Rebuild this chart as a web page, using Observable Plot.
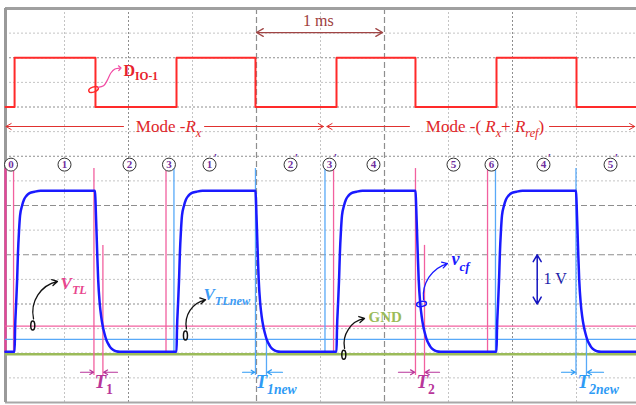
<!DOCTYPE html>
<html><head><meta charset="utf-8">
<script src="https://cdn.jsdelivr.net/npm/d3@7"></script>
<script src="https://cdn.jsdelivr.net/npm/@observablehq/plot@0.6"></script>
<style>html,body{margin:0;padding:0;background:#fff;overflow:hidden}</style>
</head><body><div id="chart"></div>
<script>
// ---------------- data (time in ms, voltage in V) ----------------
const tMin = 5 / 128, tMax = 636 / 128;

// red digital signal D_IO-1 (displayed between 5 V and 6 V)
const redRise = [0.11, 1.375, 2.625, 3.875];
const redFall = [0.742, 1.992, 3.242, 4.5];
const redLow = 5, redHigh = 6;

// blue capacitor voltage v_cf
const blueRise = [0.11, 1.375, 2.625, 3.875];
const blueFall = [0.738, 1.992, 3.242, 4.496];
const riseDt = [0, 0.004, 0.012, 0.02, 0.026, 0.035, 0.043, 0.059, 0.074, 0.094, 0.117, 0.156, 0.203];
const riseV  = [0.03, 0.5, 1.0, 1.5, 2.0, 2.5, 2.8, 3.0, 3.12, 3.2, 3.25, 3.28, 3.3];
const fallDt = [0, 0.0039, 0.0078, 0.0117, 0.018, 0.025, 0.0375, 0.0484, 0.0609, 0.0742, 0.0875, 0.1016, 0.1172, 0.1406, 0.1641, 0.1953];
const fallV  = [3.3, 3.1, 2.8, 2.5, 2.0, 1.5, 1.0, 0.75, 0.55, 0.4, 0.28, 0.2, 0.13, 0.07, 0.04, 0.03];
const baseV = 0.03;

// threshold levels
const vTL = 0.55, vTLnew = 0.28, gndV = -0.02;

// vertical marker lines
const pinkMarks = [
  {t: 0.102, y1: 0, y2: 3.75}, {t: 0.73, y1: -0.45, y2: 3.75}, {t: 0.80, y1: -0.45, y2: 2.19},
  {t: 1.293, y1: 0, y2: 3.75}, {t: 2.602, y1: 0, y2: 3.75}, {t: 3.242, y1: -0.45, y2: 3.75},
  {t: 3.3125, y1: -0.45, y2: 2.19}, {t: 3.805, y1: 0, y2: 3.75}
];
const blueMarks = [
  {t: 1.355, y1: 0, y2: 3.75}, {t: 1.992, y1: -0.45, y2: 3.75}, {t: 2.078, y1: -0.45, y2: 0.28},
  {t: 2.535, y1: 0, y2: 3.75}, {t: 3.867, y1: 0, y2: 3.75}, {t: 4.496, y1: -0.45, y2: 3.75},
  {t: 4.578, y1: -0.45, y2: 0.28}
];

// circled state numbers
const stateT = [0.082, 0.5, 1.008, 1.316, 1.633, 2.266, 2.57, 2.914, 3.539, 3.836, 4.242, 4.766];
const stateN = ["0", "1", "2", "3", "1", "2", "3", "4", "5", "6", "4", "5"];
const statePrime = [false, false, false, false, true, true, true, false, false, false, true, true];
const stateY = 3.83;

// grid
const gridXMinor = [0.5, 1.5, 2.5, 3.5, 4.5];
const gridXMajor = [1, 4];
const gridXDash = [2, 3];
const gridYMinor = [-0.5, 0.5, 1.5, 2.5, 3.5, 4.5, 5.5, 6.5];
const gridYMajor = [0, 1, 4, 5, 6];
const gridYDash = [2, 3];

// ---------------- build series ----------------
const red = [{t: tMin, v: redLow}];
redRise.forEach((r, i) => {
  red.push({t: r, v: redLow}, {t: r, v: redHigh}, {t: redFall[i], v: redHigh}, {t: redFall[i], v: redLow});
});
red.push({t: tMax, v: redLow});

const blue = [{t: tMin, v: baseV}];
blueRise.forEach((r, i) => {
  riseDt.forEach((d, j) => blue.push({t: r + d, v: riseV[j]}));
  fallDt.forEach((d, j) => blue.push({t: blueFall[i] + d, v: fallV[j]}));
});
blue.push({t: tMax, v: baseV});

const states = stateT.map((t, i) => ({t, n: stateN[i], prime: statePrime[i]}));

// ---------------- styles ----------------
const PINK = "#f2609f", LBLUE = "#58a9f8", BLUE = "#1a1aff", RED = "#ff2a2a";
const MAG = "#b8359a", TXTBLUE = "#2e9bf5", GREEN = "#9bbb59";
const SERIF = "Liberation Serif, DejaVu Serif, serif";

function ellipseSymbol(ratio) {
  return {draw(ctx, size) {
    const rx = Math.sqrt(size / Math.PI), ry = rx * ratio, k = 0.5523;
    ctx.moveTo(rx, 0);
    ctx.bezierCurveTo(rx, ry * k, rx * k, ry, 0, ry);
    ctx.bezierCurveTo(-rx * k, ry, -rx, ry * k, -rx, 0);
    ctx.bezierCurveTo(-rx, -ry * k, -rx * k, -ry, 0, -ry);
    ctx.bezierCurveTo(rx * k, -ry, rx, -ry * k, rx, 0);
    ctx.closePath();
  }};
}

function label(text, x, y, opts) {
  return Plot.text([{x, y, text}], {x: "x", y: "y", text: "text", fontFamily: SERIF, ...opts});
}
function arrow(x1, y1, x2, y2, opts) {
  return Plot.arrow([{x1, y1, x2, y2}], {x1: "x1", y1: "y1", x2: "x2", y2: "y2", ...opts});
}

const chart = Plot.plot({
  width: 636, height: 405,
  marginLeft: 5, marginRight: 0, marginTop: 8, marginBottom: 3,
  x: {domain: [tMin, tMax], axis: null},
  y: {domain: [-1, 7], axis: null},
  style: {background: "white", fontFamily: SERIF},
  marks: [
    // grid
    Plot.ruleX(gridXMinor, {stroke: "#c4c4c4", strokeDasharray: "2,2", strokeWidth: 1}),
    Plot.ruleX(gridXMajor, {stroke: "#8e8e8e", strokeDasharray: "2,2", strokeWidth: 1}),
    Plot.ruleX(gridXDash, {stroke: "#8e8e8e", strokeDasharray: "6,3", strokeWidth: 1.2}),
    Plot.ruleY(gridYMinor, {stroke: "#c4c4c4", strokeDasharray: "2,2", strokeWidth: 1}),
    Plot.ruleY(gridYMajor, {stroke: "#8e8e8e", strokeDasharray: "2,2", strokeWidth: 1}),
    Plot.ruleY(gridYDash, {stroke: "#8e8e8e", strokeDasharray: "6,3", strokeWidth: 1.2}),
    // frame
    Plot.ruleY([7], {stroke: "#a0a0a0", strokeWidth: 3}),
    Plot.ruleY([-1], {stroke: "#a8a8a8", strokeWidth: 2}),
    Plot.ruleX([tMin], {stroke: "#9a9a9a", strokeWidth: 3}),
    Plot.ruleX([tMin], {y1: 0, y2: 3.75, stroke: "#e8449a", strokeWidth: 2.2}),
    // threshold levels
    Plot.ruleY([vTL], {stroke: PINK, strokeWidth: 1.3}),
    Plot.ruleY([vTLnew], {stroke: LBLUE, strokeWidth: 1.3}),
    Plot.ruleY([gndV], {stroke: GREEN, strokeWidth: 2.5}),
    // markers
    Plot.ruleX(pinkMarks, {x: "t", y1: "y1", y2: "y2", stroke: PINK, strokeWidth: 1.3}),
    Plot.ruleX(blueMarks, {x: "t", y1: "y1", y2: "y2", stroke: LBLUE, strokeWidth: 1.3}),
    // signals
    Plot.line(red, {x: "t", y: "v", stroke: RED, strokeWidth: 2}),
    Plot.line(blue, {x: "t", y: "v", stroke: BLUE, strokeWidth: 2.5, curve: "monotone-x"}),
    // circled states
    Plot.dot(states, {x: "t", y: () => stateY, r: 6.5, stroke: "#333", strokeWidth: 1, fill: "white"}),
    Plot.text(states, {x: "t", y: () => stateY, text: "n", fill: "#7030a0", fontWeight: "bold", fontSize: 11, fontFamily: SERIF}),
    Plot.text(states.filter(d => d.prime), {x: "t", y: () => stateY, text: () => "′", dx: 6, dy: -6, fill: "#7030a0", fontWeight: "bold", fontSize: 12, fontFamily: SERIF}),
    // 1 ms
    arrow(2.49, 6.512, 2.0, 6.512, {stroke: "#a04545", strokeWidth: 1.3, headLength: 9}),
    arrow(2.49, 6.512, 2.985, 6.512, {stroke: "#a04545", strokeWidth: 1.3, headLength: 9}),
    label("1 ms", 2.484, 6.75, {fill: "#9e3d3d", fontSize: 16}),
    // D_IO-1 annotation
    Plot.dot([{x: 0.727, y: 5.355}], {x: "x", y: "y", r: 5, symbol: ellipseSymbol(0.5), rotate: -20, stroke: RED, fill: "none", strokeWidth: 1.5}),
    Plot.line([{x: 0.762, y: 5.40}, {x: 0.805, y: 5.43}, {x: 0.836, y: 5.55}, {x: 0.862, y: 5.69}, {x: 0.894, y: 5.77}, {x: 0.932, y: 5.79}],
      {x: "x", y: "y", stroke: "#f24aa3", strokeWidth: 1.2, curve: "catmull-rom", markerEnd: "arrow"}),
    label("D<sub>IO-1</sub>", 0.961, 5.74, {textAnchor: "start", fill: "#e8232c", fontWeight: "bold", fontSize: 16}),
    // modes
    arrow(0.961, 4.604, 0.043, 4.604, {stroke: "#e0312f", strokeWidth: 1, headLength: 9}),
    arrow(1.594, 4.604, 2.523, 4.604, {stroke: "#e0312f", strokeWidth: 1, headLength: 9}),
    arrow(3.195, 4.604, 2.55, 4.604, {stroke: "#e0312f", strokeWidth: 1, headLength: 9}),
    arrow(4.289, 4.604, 4.955, 4.604, {stroke: "#e0312f", strokeWidth: 1, headLength: 9}),
    label("Mode -<i>R</i><sub><i>x</i></sub>", 1.3125, 4.604, {fill: "#e0262a", fontSize: 17}),
    label("Mode -( <i>R</i><sub><i>x</i></sub>+ <i>R</i><sub><i>ref</i></sub>)", 3.785, 4.604, {fill: "#e0262a", fontSize: 17}),
    // annotation ellipses
    Plot.dot([{x: 0.252, y: 0.563}, {x: 1.445, y: 0.36}, {x: 2.682, y: -0.03}], {x: "x", y: "y", r: 2, symbol: ellipseSymbol(2.3), stroke: "#111", fill: "none", strokeWidth: 1.5}),
    Plot.dot([{x: 3.289, y: 1.0}], {x: "x", y: "y", r: 5, symbol: ellipseSymbol(0.5), rotate: -10, stroke: BLUE, fill: "none", strokeWidth: 1.5}),
    // annotation arrows
    arrow(0.258, 0.70, 0.445, 1.457, {bend: 45, stroke: "#111", strokeWidth: 1.3, headLength: 7}),
    arrow(1.453, 0.497, 1.602, 1.086, {bend: 45, stroke: "#111", strokeWidth: 1.3, headLength: 7}),
    arrow(2.688, 0.10, 2.844, 0.706, {bend: 45, stroke: "#111", strokeWidth: 1.3, headLength: 7}),
    arrow(3.305, 1.091, 3.492, 1.822, {bend: 40, stroke: BLUE, strokeWidth: 1.3, headLength: 7}),
    // annotation labels
    label("<i>V</i><sub><i>TL</i></sub>", 0.469, 1.42, {textAnchor: "start", fill: "#e8468e", fontWeight: "bold", fontSize: 17}),
    label("<i>V</i><sub><i>TLnew</i></sub>", 1.586, 1.2, {textAnchor: "start", fill: "#3d9cf5", fontWeight: "bold", fontSize: 17}),
    label("GND", 2.875, 0.726, {textAnchor: "start", fill: GREEN, fontWeight: "bold", fontSize: 15}),
    label("<i>v</i><sub><i>cf</i></sub>", 3.523, 1.9, {textAnchor: "start", fill: BLUE, fontWeight: "bold", fontSize: 18}),
    // 1 V scale
    arrow(4.193, 1.5, 4.193, 2.0, {stroke: "#1515c0", strokeWidth: 1.5, headLength: 8}),
    arrow(4.193, 1.5, 4.193, 1.0, {stroke: "#1515c0", strokeWidth: 1.5, headLength: 8}),
    label("1 V", 4.242, 1.518, {textAnchor: "start", fill: "#1c1ca8", fontSize: 16}),
    // T intervals
    arrow(0.625, -0.386, 0.727, -0.386, {stroke: MAG, strokeWidth: 1.2, headLength: 6}),
    arrow(0.914, -0.386, 0.805, -0.386, {stroke: MAG, strokeWidth: 1.2, headLength: 6}),
    arrow(1.891, -0.386, 1.986, -0.386, {stroke: TXTBLUE, strokeWidth: 1.2, headLength: 6}),
    arrow(2.203, -0.386, 2.084, -0.386, {stroke: TXTBLUE, strokeWidth: 1.2, headLength: 6}),
    arrow(3.109, -0.386, 3.236, -0.386, {stroke: MAG, strokeWidth: 1.2, headLength: 6}),
    arrow(3.43, -0.386, 3.318, -0.386, {stroke: MAG, strokeWidth: 1.2, headLength: 6}),
    arrow(4.383, -0.386, 4.49, -0.386, {stroke: TXTBLUE, strokeWidth: 1.2, headLength: 6}),
    arrow(4.711, -0.386, 4.584, -0.386, {stroke: TXTBLUE, strokeWidth: 1.2, headLength: 6}),
    label("<i>T</i><sub>1</sub>", 0.734, -0.58, {textAnchor: "start", fill: MAG, fontWeight: "bold", fontSize: 19}),
    label("<i>T</i><sub><i>1new</i></sub>", 1.992, -0.58, {textAnchor: "start", fill: TXTBLUE, fontWeight: "bold", fontSize: 19}),
    label("<i>T</i><sub>2</sub>", 3.25, -0.58, {textAnchor: "start", fill: MAG, fontWeight: "bold", fontSize: 19}),
    label("<i>T</i><sub><i>2new</i></sub>", 4.508, -0.58, {textAnchor: "start", fill: TXTBLUE, fontWeight: "bold", fontSize: 19})
  ]
});

document.getElementById("chart").appendChild(chart);

// turn <i>/<sub> markup into tspans
chart.querySelectorAll("text").forEach(t => {
  const s = t.textContent;
  if (!s.includes("<")) return;
  const fs = parseFloat(getComputedStyle(t).fontSize) || 16;
  const shift = fs * 0.3;
  t.textContent = "";
  let italic = false, sub = false, cur = 0, last = 0, m;
  const re = /<(\/?)(i|sub)>/g;
  const emit = str => {
    if (!str) return;
    const ts = document.createElementNS("http://www.w3.org/2000/svg", "tspan");
    ts.textContent = str;
    if (italic) ts.setAttribute("font-style", "italic");
    const target = sub ? shift : 0;
    if (target !== cur) { ts.setAttribute("dy", target - cur); cur = target; }
    if (sub) ts.setAttribute("font-size", fs * 0.72);
    t.appendChild(ts);
  };
  while ((m = re.exec(s))) {
    emit(s.slice(last, m.index));
    if (m[2] === "i") italic = !m[1]; else sub = !m[1];
    last = re.lastIndex;
  }
  emit(s.slice(last));
});
</script>
</body></html>
